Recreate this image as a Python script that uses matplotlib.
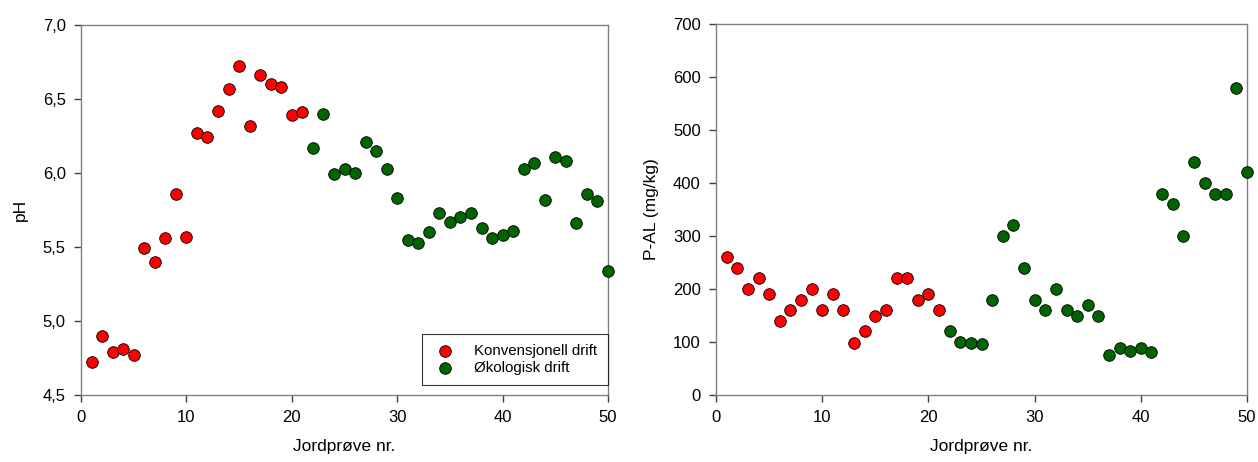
import matplotlib
matplotlib.use("Agg")
import matplotlib.pyplot as plt
from matplotlib.ticker import FuncFormatter

# =========================================
# DATA
# =========================================

sample_nr = list(range(1, 51))
n_konv = 21  # samples 1-21 conventional, 22-50 organic

ph_values = [
    4.72, 4.90, 4.79, 4.81, 4.77, 5.49, 5.40, 5.56, 5.86, 5.57,
    6.27, 6.24, 6.42, 6.57, 6.72, 6.32, 6.66, 6.60, 6.58, 6.39,
    6.41, 6.17, 6.40, 5.99, 6.03, 6.00, 6.21, 6.15, 6.03, 5.83,
    5.55, 5.53, 5.60, 5.73, 5.67, 5.70, 5.73, 5.63, 5.56, 5.58,
    5.61, 6.03, 6.07, 5.82, 6.11, 6.08, 5.66, 5.86, 5.81, 5.34,
]

pal_values = [
    260, 240, 200, 220, 190, 140, 160, 180, 200, 160,
    190, 160, 98, 120, 150, 160, 220, 220, 180, 190,
    160, 120, 100, 98, 96, 180, 300, 320, 240, 180,
    160, 200, 160, 150, 170, 150, 76, 89, 83, 89,
    81, 380, 360, 300, 440, 400, 380, 380, 580, 420,
]

labels = ["Konvensjonell drift", "Økologisk drift"]
colors = ["#ff0000", "#006400"]

plt.rcParams['font.family'] = ['Liberation Sans', 'DejaVu Sans']

fig = plt.figure(figsize=(12.58, 4.62), dpi=100)
ax1 = fig.add_axes([0.0644, 0.145, 0.4189, 0.8009])
ax2 = fig.add_axes([0.5692, 0.145, 0.4221, 0.8031])


def draw(ax, values):
    x_k, y_k = sample_nr[:n_konv], values[:n_konv]
    x_o, y_o = sample_nr[n_konv:], values[n_konv:]
    ax.scatter(x_k, y_k, s=70, c=colors[0], edgecolors="black",
               linewidths=0.6, label=labels[0], zorder=3, clip_on=False)
    ax.scatter(x_o, y_o, s=70, c=colors[1], edgecolors="black",
               linewidths=0.6, label=labels[1], zorder=3, clip_on=False)
    ax.set_xlim(0, 50)
    ax.set_xticks([0, 10, 20, 30, 40, 50])
    ax.set_xlabel("Jordprøve nr.", fontsize=12.5, labelpad=10)
    for sp in ax.spines.values():
        sp.set_color("#808080")
        sp.set_linewidth(1.0)
    ax.tick_params(direction="out", length=5, width=1.0, color="#404040",
                   labelsize=12, pad=6)


# =========================================
# pH PLOT
# =========================================

draw(ax1, ph_values)
ax1.set_ylim(4.5, 7.0)
ax1.set_yticks([4.5, 5.0, 5.5, 6.0, 6.5, 7.0])
ax1.yaxis.set_major_formatter(FuncFormatter(lambda v, p: f"{v:.1f}".replace(".", ",")))
ax1.set_ylabel("pH", fontsize=12.5, labelpad=11)

leg = ax1.legend(loc="lower right", bbox_to_anchor=(1.0, 0.027), fontsize=10.8,
                 frameon=True, fancybox=False, edgecolor="black",
                 borderaxespad=0, handletextpad=1.1, borderpad=0.7,
                 labelspacing=0.15, handlelength=1.7)
leg.get_frame().set_linewidth(0.8)

# =========================================
# P-AL PLOT
# =========================================

draw(ax2, pal_values)
ax2.set_ylim(0, 700)
ax2.set_yticks(range(0, 701, 100))
ax2.set_ylabel("P-AL (mg/kg)", fontsize=12.5, labelpad=10)

fig.savefig("out.png", dpi=100)
